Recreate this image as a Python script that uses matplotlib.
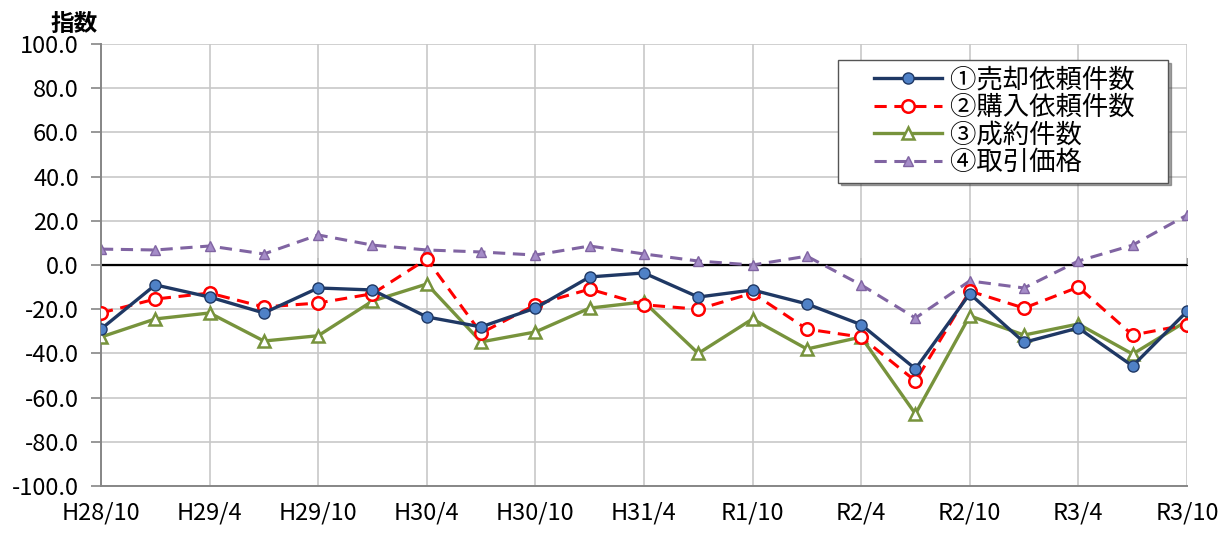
import matplotlib.pyplot as plt
from matplotlib.legend_handler import HandlerLine2D
import numpy as np

plt.rcParams['font.family'] = ['Noto Sans CJK JP', 'DejaVu Sans']

periods = ['H28/10', 'H29/1', 'H29/4', 'H29/7', 'H29/10', 'H30/1', 'H30/4',
           'H30/7', 'H30/10', 'H31/1', 'H31/4', 'R1/7', 'R1/10', 'R2/1',
           'R2/4', 'R2/7', 'R2/10', 'R3/1', 'R3/4', 'R3/7', 'R3/10']

sell = [-29.0, -9.0, -14.5, -21.7, -10.4, -11.3, -23.5, -28.0, -19.5, -5.4, -3.6,
        -14.5, -11.3, -17.6, -27.0, -47.0, -13.0, -35.0, -28.5, -45.7, -21.0]
buy = [-21.7, -15.4, -12.7, -19.0, -17.2, -13.0, 2.7, -30.8, -18.0, -10.9, -18.0,
       -20.0, -12.7, -29.0, -32.6, -52.5, -11.8, -19.5, -10.0, -31.7, -27.0]
deals = [-32.6, -24.4, -21.7, -34.4, -32.0, -16.3, -8.6, -34.8, -30.3, -19.5, -16.7,
         -40.0, -24.4, -38.0, -32.6, -67.4, -23.0, -31.7, -26.7, -40.3, -25.3]
price = [7.2, 6.8, 8.6, 5.0, 13.6, 9.0, 6.8, 5.9, 4.5, 8.6, 5.0,
         1.8, 0.0, 4.0, -9.0, -24.0, -7.2, -10.4, 1.8, 9.0, 22.6]

x = np.arange(len(periods))

fig = plt.figure(figsize=(12.3, 5.37), dpi=100)
ax = fig.add_axes([0.0821, 0.095, 0.8829, 0.823])

l1, = ax.plot(x, sell, color='#1f3864', lw=2.4, marker='o', ms=8,
              mfc='#4f81c7', mec='#1f3864', mew=1.0, label='①売却依頼件数', zorder=5)
l2, = ax.plot(x, buy, color='#ff0000', lw=2.2, ls=(0, (4, 2.5)), marker='o', ms=9,
              mfc='white', mec='#ff0000', mew=1.8, label='②購入依頼件数', zorder=4)
l3, = ax.plot(x, deals, color='#77933c', lw=2.4, marker='^', ms=9,
              mfc='white', mec='#77933c', mew=1.8, label='③成約件数', zorder=3)
l4, = ax.plot(x, price, color='#8064a2', lw=2.2, ls=(0, (4, 2.5)), marker='^', ms=7,
              mfc='#a58cc8', mec='#8064a2', mew=1.0, label='④取引価格', zorder=2)

ax.axhline(0, color='black', lw=1.6, zorder=1)

ax.set_xlim(0, len(periods) - 1)
ax.set_ylim(-100, 100)
ax.set_yticks(np.arange(-100, 101, 20))
ax.set_yticklabels([f'{v:.1f}' for v in np.arange(-100, 101, 20)], fontsize=17)
ax.set_xticks(x[::2])
ax.set_xticklabels(periods[::2], fontsize=17)

ax.grid(True, color='#c8c8c8', lw=1.2)
ax.set_axisbelow(True)
for s in ['top', 'right']:
    ax.spines[s].set_visible(False)
ax.spines['left'].set_color('#868686')
ax.spines['bottom'].set_color('#868686')
ax.spines['left'].set_linewidth(1.4)
ax.spines['bottom'].set_linewidth(1.4)
ax.tick_params(axis='y', length=7, color='#868686', width=1.2, pad=9)
ax.tick_params(axis='x', length=0, pad=11)

# small tick marks along the zero line
sec = ax.secondary_xaxis(0.5)
sec.set_xticks(x[::2])
sec.set_xticklabels([])
sec.tick_params(length=5, color='#868686', width=1.2, direction='out')
sec.spines['bottom'].set_visible(False)

fig.text(0.041, 0.943, '指数', fontsize=17, fontweight='bold')

# legend: wide side padding like the original, pad left via the handler, right via a full-width space
hmap = {l: HandlerLine2D(xpad=1.1) for l in (l1, l2, l3, l4)}
labels = [l.get_label() + '\u3000' for l in (l1, l2, l3, l4)]
leg = ax.legend([l1, l2, l3, l4], labels, handler_map=hmap,
                loc='upper right', bbox_to_anchor=(0.9825, 0.964), fontsize=19,
                frameon=True, fancybox=False, shadow=True, edgecolor='#555555',
                handlelength=3.7, borderpad=0.25, labelspacing=0.02, handletextpad=0.3,
                borderaxespad=0)
leg.get_frame().set_linewidth(1.0)

fig.savefig('out.png', dpi=100)
